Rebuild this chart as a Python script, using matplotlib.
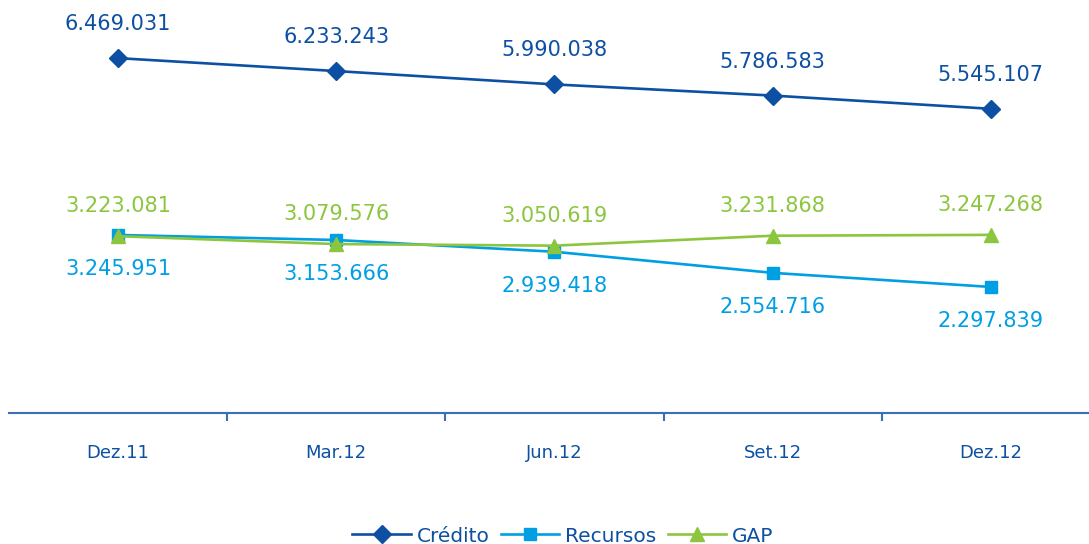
import matplotlib
matplotlib.use("Agg")
import matplotlib.pyplot as plt
from matplotlib.ticker import FixedLocator

categories = ["Dez.11", "Mar.12", "Jun.12", "Set.12", "Dez.12"]
credito = [6469031, 6233243, 5990038, 5786583, 5545107]
recursos = [3245951, 3153666, 2939418, 2554716, 2297839]
gap = [3223081, 3079576, 3050619, 3231868, 3247268]

c_cred = "#0d4fa3"
c_rec = "#009fe3"
c_gap = "#8cc63f"
c_axis = "#3a6fb7"

def fmt(v):
    return f"{v:,}".replace(",", ".")

fig = plt.figure(figsize=(10.89, 5.44), dpi=100)
ax = fig.add_axes([9 / 1089, 131 / 544, 1 - 9 / 1089, (413 - 29) / 544])
x = list(range(len(categories)))

ax.plot(x, credito, color=c_cred, lw=1.9, marker="D", ms=9, label="Crédito", zorder=3)
ax.plot(x, recursos, color=c_rec, lw=1.9, marker="s", ms=9, label="Recursos", zorder=3)
ax.plot(x, gap, color=c_gap, lw=1.9, marker="^", ms=10, label="GAP", zorder=4)

ax.set_xlim(-0.5, 4.45)
ax.set_ylim(0, 7000000)

for xi, v in zip(x, credito):
    ax.annotate(fmt(v), (xi, v), xytext=(0, 34), textcoords="offset pixels",
                ha="center", va="center", color=c_cred, fontsize=15)
for xi, v in zip(x, recursos):
    ax.annotate(fmt(v), (xi, v), xytext=(0, -34), textcoords="offset pixels",
                ha="center", va="center", color=c_rec, fontsize=15)
for xi, v in zip(x, gap):
    ax.annotate(fmt(v), (xi, v), xytext=(0, 30), textcoords="offset pixels",
                ha="center", va="center", color=c_gap, fontsize=15)

for s in ["top", "right", "left"]:
    ax.spines[s].set_visible(False)
ax.spines["bottom"].set_color(c_axis)
ax.spines["bottom"].set_linewidth(1.5)
ax.set_yticks([])
ax.set_xticks(x)
ax.set_xticklabels(categories, fontsize=13, color=c_cred)
ax.tick_params(axis="x", which="major", length=0, pad=22)
ax.xaxis.set_minor_locator(FixedLocator([0.5, 1.5, 2.5, 3.5]))
ax.tick_params(axis="x", which="minor", length=6, width=1.5, color=c_axis, direction="out")

leg = fig.legend(loc="center", bbox_to_anchor=(563 / 1089, 8 / 544), ncol=3, frameon=False,
                 fontsize=14.5, handlelength=2.9, columnspacing=0.55, handletextpad=0.3)
for t in leg.get_texts():
    t.set_color(c_cred)

fig.savefig("out.png", dpi=100)
